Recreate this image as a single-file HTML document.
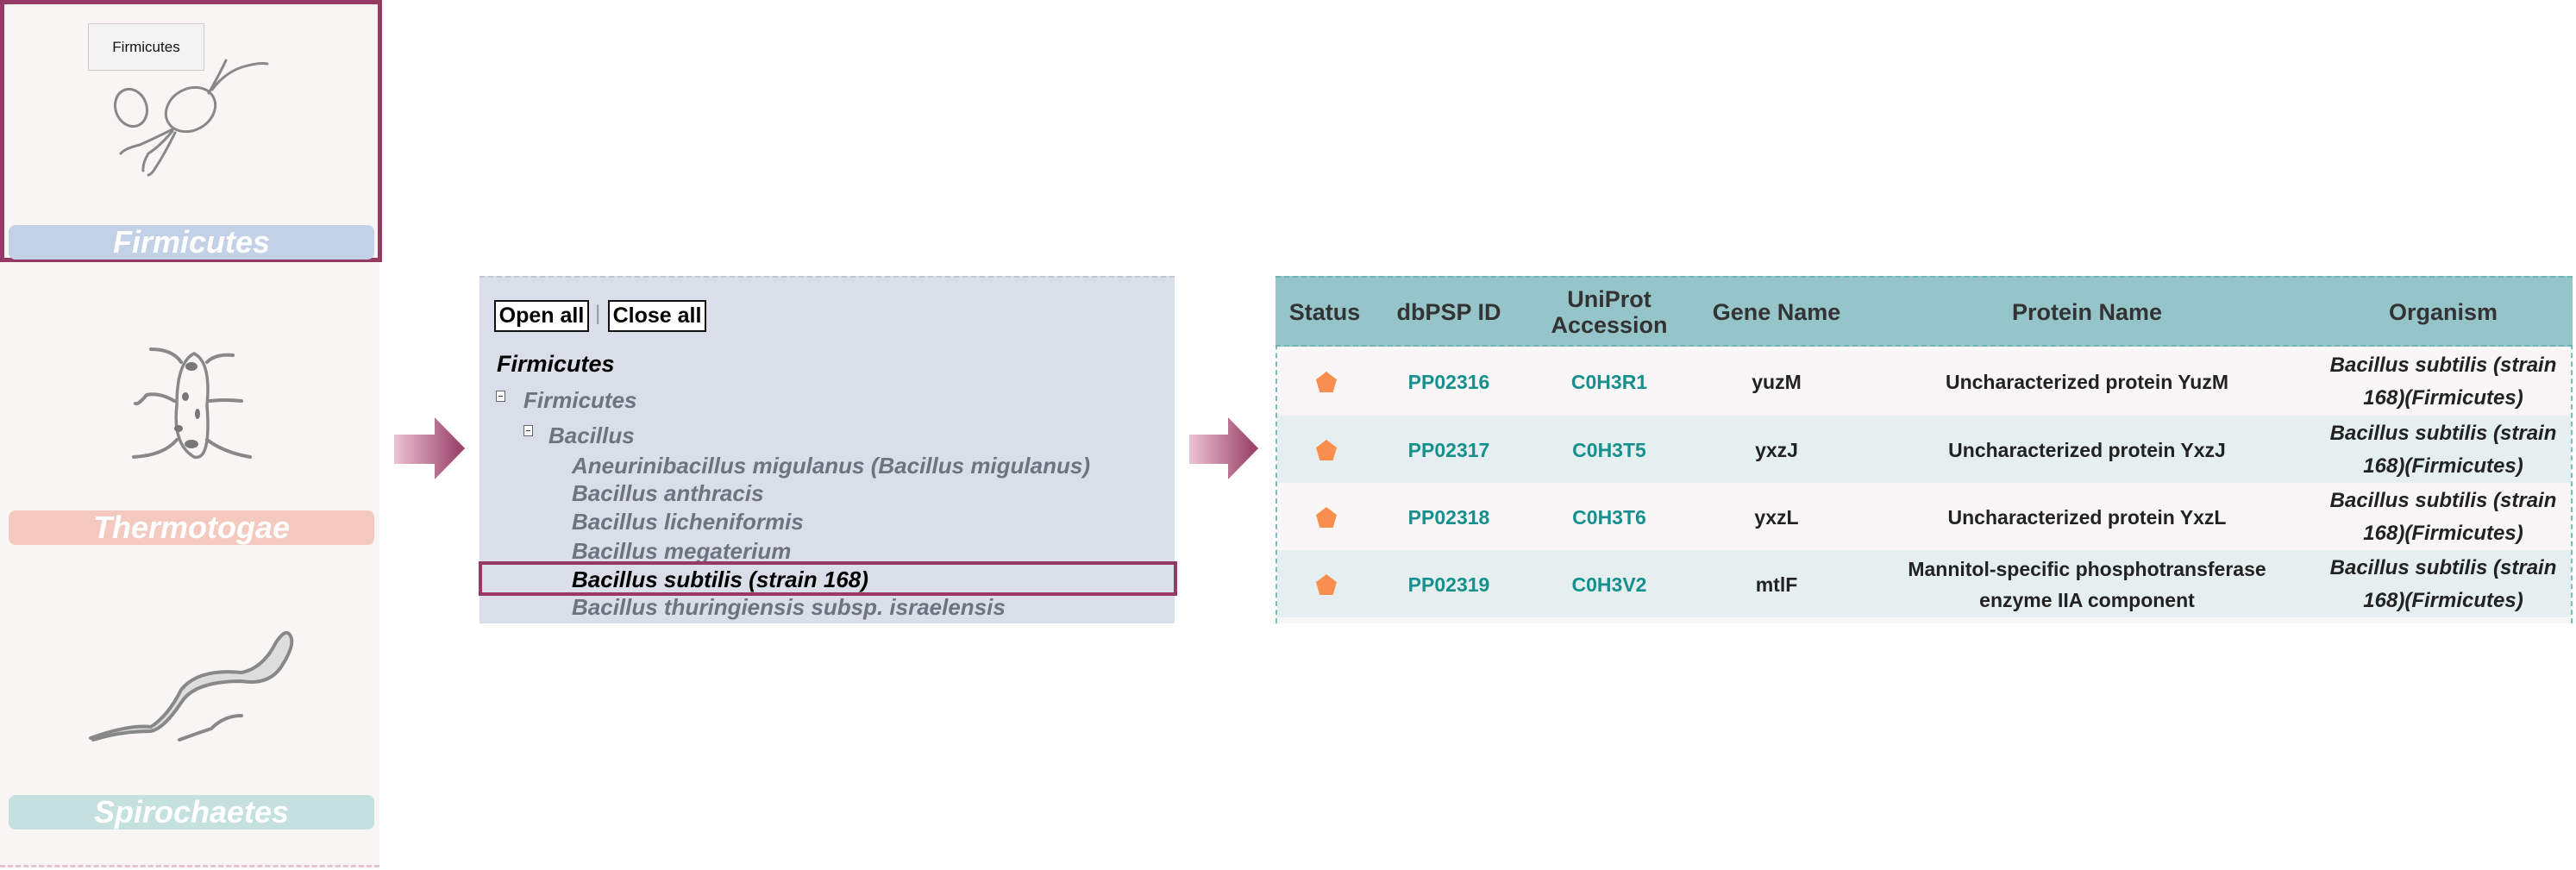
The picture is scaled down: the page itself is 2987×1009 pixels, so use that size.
<!DOCTYPE html>
<html><head><meta charset="utf-8"><style>
*{margin:0;padding:0;box-sizing:border-box}
body{width:2987px;height:1009px;background:#fff;position:relative;overflow:hidden;font-family:"Liberation Sans",Arial,sans-serif}
.a{position:absolute}
.bar{position:absolute;left:10px;width:424px;height:40px;border-radius:8px;color:#fff;font-weight:bold;font-style:italic;font-size:36px;text-align:center;line-height:40px}
.leaf{position:absolute;left:663px;font-weight:bold;font-style:italic;font-size:26px;color:#6f7380;line-height:30px;white-space:nowrap}
.th{position:absolute;font-weight:bold;font-size:27px;color:#333;text-align:center;transform:translateX(-50%);line-height:30px;white-space:nowrap}
.td{position:absolute;font-weight:bold;font-size:23px;text-align:center;transform:translate(-50%,-50%);line-height:38px;white-space:nowrap;color:#222}
.tl{color:#16908e}
.org{font-style:italic;font-size:24px;line-height:38px}
.pent{position:absolute;width:24px;height:24px;background:#f98f4f;clip-path:polygon(50% 0,100% 38%,82% 100%,18% 100%,0 38%);transform:translate(-50%,-50%)}
.box{position:absolute;width:11px;height:13px;border:1px solid #666;background:#fff}
.box:after{content:"";position:absolute;left:2px;top:5px;width:5px;height:1px;background:#333}
</style></head><body>
<!-- left panel -->
<div class="a" style="left:0;top:0;width:440px;height:1006px;background:#f9f5f5;border-bottom:3px dashed #e8c4d0"></div>
<svg class="a" style="left:0;top:0" width="440" height="1006" fill="none" stroke="#888" stroke-width="3" stroke-linecap="round">
<ellipse cx="152" cy="125" rx="18" ry="22" transform="rotate(-20 152 125)"/>
<ellipse cx="221" cy="127" rx="30" ry="24" transform="rotate(-30 221 127)"/>
<path d="M242 108 Q255 85 262 70 M246 104 Q260 85 280 78 Q300 72 310 74 M200 150 Q180 160 162 168 Q145 172 140 178 M200 152 Q185 170 172 178 Q165 190 166 198 M203 154 Q190 180 180 195 Q176 202 172 203"/>
<path d="M225 410 Q205 420 205 470 Q200 515 225 530 Q245 535 240 470 Q245 420 225 410 Z" stroke-width="3.5"/>
<path d="M210 420 Q200 405 175 405 M240 420 Q250 410 270 412 M202 465 Q185 455 170 458 Q160 470 157 468 M243 465 Q260 463 280 465 M205 510 Q190 528 155 530 M240 510 Q260 525 290 530" stroke-width="4"/>
<g fill="#777" stroke="none"><ellipse cx="222" cy="425" rx="7" ry="5"/><ellipse cx="215" cy="460" rx="4" ry="5"/><ellipse cx="229" cy="480" rx="3" ry="6"/><ellipse cx="207" cy="497" rx="5" ry="4"/><ellipse cx="222" cy="515" rx="8" ry="5"/></g>
<path d="M105 856 Q150 840 175 843 Q195 830 210 800 Q230 775 280 780 Q305 775 320 745 Q330 730 335 735 Q345 745 325 775 Q310 795 280 790 Q225 790 210 815 Q190 845 175 848 Q140 848 108 858" stroke-width="4" fill="#ddd"/>
<path d="M208 858 Q230 850 245 845 Q260 830 280 830" stroke-width="4"/>
</svg>
<div class="a" style="left:0;top:0;width:443px;height:304px;border:5px solid #963a63"></div>
<div class="a" style="left:102px;top:27px;width:135px;height:55px;background:#f3f3f3;border:1px solid #ccc;font-size:17px;line-height:53px;text-align:center;color:#111">Firmicutes</div>
<div class="bar" style="top:261px;background:#c3d1e6">Firmicutes</div>
<div class="bar" style="top:592px;background:#f4c9c0">Thermotogae</div>
<div class="bar" style="top:922px;background:#c4e0df">Spirochaetes</div>
<!-- arrows -->
<svg class="a" style="left:457px;top:484px" width="82" height="72"><defs><linearGradient id="g" x1="0" x2="1"><stop offset="0" stop-color="#ecc3d3"/><stop offset="1" stop-color="#963a63"/></linearGradient></defs><path d="M0 20H47V0L82 36L47 72V54H0Z" fill="url(#g)"/></svg>
<svg class="a" style="left:1379px;top:484px" width="80" height="72"><defs><linearGradient id="g2" x1="0" x2="1"><stop offset="0" stop-color="#ecc3d3"/><stop offset="1" stop-color="#963a63"/></linearGradient></defs><path d="M0 20H45V0L80 36L45 72V54H0Z" fill="url(#g2)"/></svg>
<!-- tree panel -->
<div class="a" style="left:556px;top:320px;width:806px;height:403px;background:#d9dee9;border-top:2px dashed #c4c4cc"></div>
<div class="a" style="left:573px;top:348px;width:110px;height:37px;border:2px solid #111;background:#fff;font-size:25px;line-height:33px;text-align:center;font-weight:bold;color:#000">Open all</div>
<div class="a" style="left:690px;top:350px;font-size:24px;color:#999">|</div>
<div class="a" style="left:705px;top:348px;width:114px;height:37px;border:2px solid #111;background:#fff;font-size:25px;line-height:33px;text-align:center;font-weight:bold;color:#000">Close all</div>
<div class="a" style="left:576px;top:407px;font-size:27px;font-weight:bold;font-style:italic;color:#000">Firmicutes</div>
<div class="box" style="left:575px;top:453px"></div>
<div class="a" style="left:607px;top:449px;font-size:26px;font-weight:bold;font-style:italic;color:#6f7380">Firmicutes</div>
<div class="box" style="left:607px;top:493px"></div>
<div class="a" style="left:636px;top:490px;font-size:26px;font-weight:bold;font-style:italic;color:#6f7380">Bacillus</div>
<div class="leaf" style="top:525px">Aneurinibacillus migulanus (Bacillus migulanus)</div>
<div class="leaf" style="top:557px">Bacillus anthracis</div>
<div class="leaf" style="top:590px">Bacillus licheniformis</div>
<div class="leaf" style="top:624px">Bacillus megaterium</div>
<div class="leaf" style="top:657px;color:#000">Bacillus subtilis (strain 168)</div>
<div class="leaf" style="top:689px">Bacillus thuringiensis subsp. israelensis</div>
<div class="a" style="left:555px;top:651px;width:810px;height:40px;border:4px solid #963a63"></div>
<!-- table -->
<div class="a" style="left:1479px;top:320px;width:1504px;height:403px;border-left:2px dashed #7bbcbc;border-right:2px dashed #7bbcbc"></div>
<div class="a" style="left:1479px;top:320px;width:1504px;height:82px;background:#95c5c9;border-top:2px dashed #6fb5b8;border-bottom:2px dashed #6fb5b8"></div>
<div class="a" style="left:1481px;top:402px;width:1500px;height:80px;background:#f9f6f7"></div>
<div class="a" style="left:1481px;top:482px;width:1500px;height:78px;background:#e6efef"></div>
<div class="a" style="left:1481px;top:560px;width:1500px;height:78px;background:#f9f6f7"></div>
<div class="a" style="left:1481px;top:638px;width:1500px;height:78px;background:#e6efef"></div>
<div class="a" style="left:1481px;top:716px;width:1500px;height:7px;background:#f9f6f7"></div>
<div class="th" style="left:1536px;top:347px">Status</div>
<div class="th" style="left:1680px;top:347px">dbPSP ID</div>
<div class="th" style="left:1866px;top:332px">UniProt<br>Accession</div>
<div class="th" style="left:2060px;top:347px">Gene Name</div>
<div class="th" style="left:2420px;top:347px">Protein Name</div>
<div class="th" style="left:2833px;top:347px">Organism</div>

<div class="pent" style="left:1538px;top:443px"></div>
<div class="td tl" style="left:1680px;top:443px">PP02316</div>
<div class="td tl" style="left:1866px;top:443px">C0H3R1</div>
<div class="td" style="left:2060px;top:443px">yuzM</div>
<div class="td" style="left:2420px;top:443px">Uncharacterized protein YuzM</div>
<div class="td org" style="left:2833px;top:443px">Bacillus subtilis (strain<br>168)(Firmicutes)</div>

<div class="pent" style="left:1538px;top:522px"></div>
<div class="td tl" style="left:1680px;top:522px">PP02317</div>
<div class="td tl" style="left:1866px;top:522px">C0H3T5</div>
<div class="td" style="left:2060px;top:522px">yxzJ</div>
<div class="td" style="left:2420px;top:522px">Uncharacterized protein YxzJ</div>
<div class="td org" style="left:2833px;top:522px">Bacillus subtilis (strain<br>168)(Firmicutes)</div>

<div class="pent" style="left:1538px;top:600px"></div>
<div class="td tl" style="left:1680px;top:600px">PP02318</div>
<div class="td tl" style="left:1866px;top:600px">C0H3T6</div>
<div class="td" style="left:2060px;top:600px">yxzL</div>
<div class="td" style="left:2420px;top:600px">Uncharacterized protein YxzL</div>
<div class="td org" style="left:2833px;top:600px">Bacillus subtilis (strain<br>168)(Firmicutes)</div>

<div class="pent" style="left:1538px;top:678px"></div>
<div class="td tl" style="left:1680px;top:678px">PP02319</div>
<div class="td tl" style="left:1866px;top:678px">C0H3V2</div>
<div class="td" style="left:2060px;top:678px">mtlF</div>
<div class="td" style="left:2420px;top:678px;line-height:36px">Mannitol-specific phosphotransferase<br>enzyme IIA component</div>
<div class="td org" style="left:2833px;top:678px">Bacillus subtilis (strain<br>168)(Firmicutes)</div>
</body></html>
